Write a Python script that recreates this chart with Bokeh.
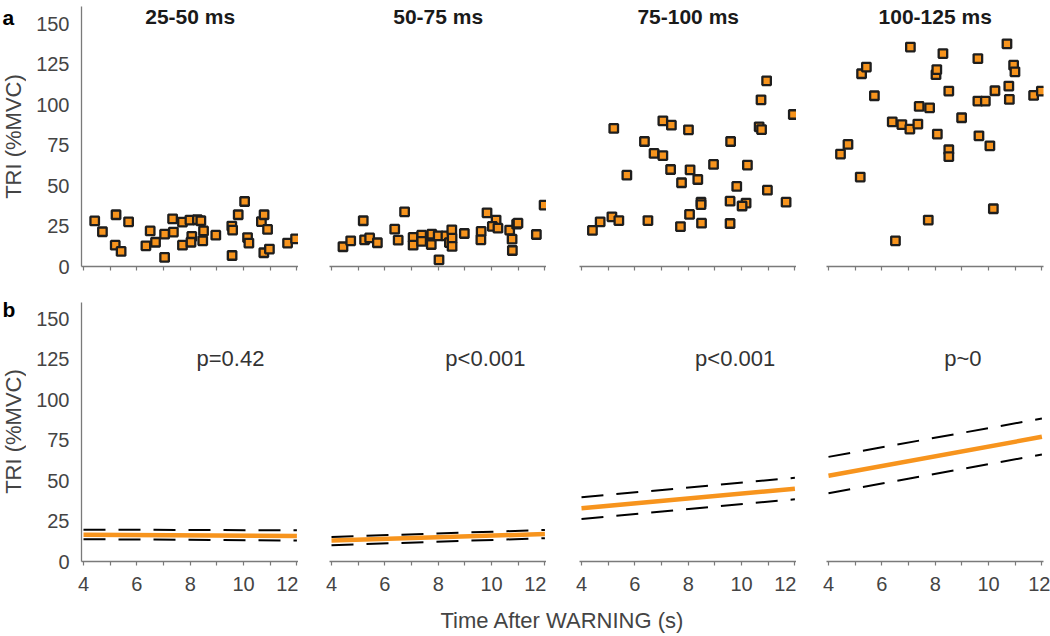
import math
from bokeh.plotting import figure
from bokeh.models import Range1d, FixedTicker, Label
from bokeh.layouts import column, row
from bokeh.embed import file_html
from bokeh.resources import INLINE

FONT = "Liberation Sans"
ORANGE = "#F7941D"
AXIS_COL = "#7a7a7a"
TEXT_COL = "#444444"

# ---------------- data ----------------
windows = ["25-50 ms", "50-75 ms", "75-100 ms", "100-125 ms"]
p_texts = ["p=0.42", "p<0.001", "p<0.001", "p~0"]
panel_tags = ["a", "b"]
y_title = "TRI (%MVC)"
x_title = "Time After WARNING (s)"
x_ticks = [4, 6, 8, 10, 12]
x_minor = [5, 7, 9, 11]
y_ticks = [0, 25, 50, 75, 100, 125, 150]

x_25_50 = [4.42, 4.71, 5.22, 5.19, 5.41, 5.69, 6.34, 6.50, 6.70, 7.04, 7.04, 7.34, 7.37,
           7.71, 7.71, 7.99, 8.06, 8.03, 8.27, 8.40, 8.50, 8.47, 8.96, 9.56, 9.59, 9.57,
           9.80, 10.04, 10.15, 10.20, 10.67, 10.77, 10.90, 10.76, 10.97, 11.65, 11.95]
y_25_50 = [28.2, 21.5, 32.0, 13.2, 9.3, 27.6, 12.8, 22.0, 15.0, 5.6, 20.0, 29.5, 21.3,
           27.5, 13.2, 28.7, 18.6, 15.0, 28.9, 28.3, 22.0, 15.9, 19.4, 25.0, 22.5, 6.8,
           32.0, 40.2, 17.9, 14.5, 27.8, 32.0, 22.9, 8.5, 10.8, 14.5, 17.1]

x_50_75 = [4.43, 4.72, 5.19, 5.24, 5.43, 5.72, 6.37, 6.50, 6.74, 7.06, 7.06, 7.38, 7.38,
           7.76, 7.74, 8.03, 8.00, 8.29, 8.42, 8.51, 8.52, 8.52, 8.98, 9.61, 9.60, 9.83,
           10.17, 10.03, 10.24, 10.68, 10.77, 10.78, 10.94, 10.99, 11.68, 11.97]
y_50_75 = [12.2, 15.9, 28.3, 16.5, 17.7, 14.7, 23.1, 16.3, 33.8, 18.0, 13.2, 19.4, 15.5,
           20.0, 13.6, 4.1, 19.0, 19.0, 14.8, 22.7, 17.5, 12.4, 20.4, 21.7, 16.5, 33.2,
           28.7, 24.8, 23.7, 22.5, 16.9, 9.9, 26.2, 26.8, 19.8, 38.0]

x_75_100 = [4.41, 4.70, 5.14, 5.40, 5.21, 5.70, 6.36, 6.49, 6.72, 7.05, 7.05, 7.37, 7.34,
            7.75, 7.71, 8.01, 8.07, 8.05, 8.36, 8.48, 8.48, 8.50, 8.95, 9.59, 9.57, 9.57,
            9.82, 10.17, 10.02, 10.22, 10.66, 10.75, 10.73, 10.94, 10.97, 11.67, 11.94]
y_75_100 = [22.3, 27.6, 30.7, 28.4, 85.4, 56.5, 77.3, 28.4, 69.9, 90.1, 68.6, 87.4, 60.0,
            51.8, 24.7, 84.5, 59.8, 32.2, 53.8, 39.8, 38.3, 26.8, 63.1, 77.3, 40.4, 26.6,
            49.5, 39.2, 37.4, 62.7, 86.4, 84.7, 103.1, 114.8, 47.2, 39.8, 94.0]

x_100_125 = [4.45, 4.73, 5.19, 5.24, 5.42, 5.72, 6.39, 6.51, 6.75, 7.07, 7.05, 7.35, 7.40,
             7.74, 7.79, 8.03, 8.06, 8.08, 8.29, 8.51, 8.51, 8.51, 8.99, 9.60, 9.88, 9.60,
             9.64, 10.05, 10.18, 10.24, 10.69, 10.76, 10.78, 10.94, 10.99, 11.69, 11.98]
y_100_125 = [69.5, 75.5, 55.3, 119.2, 123.3, 105.6, 89.5, 15.9, 87.8, 135.7, 85.0, 88.1,
             99.0, 28.7, 98.1, 118.6, 121.8, 81.9, 131.7, 108.5, 72.2, 68.0, 92.0, 102.3,
             102.3, 128.6, 80.8, 74.6, 35.7, 108.7, 137.7, 111.6, 103.3, 124.5, 120.4,
             105.8, 108.5]

fit_x = [4, 12]
fit_mean = [[16.5, 15.8], [13.0, 17.0], [32.9, 45.0], [53.0, 77.1]]
fit_upper = [[19.7, 19.3], [15.2, 19.5], [39.7, 51.8], [64.7, 88.4]]
fit_lower = [[13.8, 13.0], [10.1, 14.4], [26.3, 38.5], [42.2, 66.2]]

scatter_x = [x_25_50, x_50_75, x_75_100, x_100_125]
scatter_y = [y_25_50, y_50_75, y_75_100, y_100_125]

# ---------------- layout params ----------------
STRIP_W = 26
border_left = [55, 31, 33, 30]
border_right = [0, 0, 0, 7]
FRAME_W = 217
X_RANGE = (3.925, 12.06)
PX_PER_Y = 1.617
TOP_FH, TOP_BT, TOP_BB = 266, 0, 36
BOT_FH, BOT_BT, BOT_BB = 259, 0, 42
LABEL_H = 33
p_label_x = [9.51, 9.77, 9.76, 9.04]


def style_x_axis(p, show_labels):
    ax = p.xaxis[0]
    ax.ticker = FixedTicker(ticks=x_ticks, minor_ticks=x_minor)
    ax.axis_line_color = AXIS_COL
    ax.axis_line_width = 1.3
    ax.major_tick_line_color = AXIS_COL
    ax.minor_tick_line_color = AXIS_COL
    ax.major_tick_line_width = 1.2
    ax.minor_tick_line_width = 1.2
    ax.major_tick_out = 4
    ax.major_tick_in = 0
    ax.minor_tick_out = 4
    ax.minor_tick_in = 0
    if show_labels:
        ax.major_label_text_font = FONT
        ax.major_label_text_font_size = "20px"
        ax.major_label_text_color = TEXT_COL
        ax.major_label_standoff = 11
    else:
        ax.major_label_overrides = {t: "" for t in x_ticks}
        ax.major_label_text_font_size = "0px"
        ax.major_label_standoff = 0


def style_y_axis(p, top):
    ax = p.yaxis[0]
    ax.ticker = FixedTicker(ticks=y_ticks, minor_ticks=[])
    ax.bounds = (0, 161) if top else (0, 160)
    ax.axis_line_color = AXIS_COL
    ax.axis_line_width = 1.3
    ax.major_tick_out = 0
    ax.major_tick_in = 0
    ax.minor_tick_out = 0
    ax.major_label_text_font = FONT
    ax.major_label_text_font_size = "20px"
    ax.major_label_text_color = TEXT_COL
    ax.major_label_standoff = 12


def make_fig(i, top_row):
    if top_row:
        fh, bt, bb = TOP_FH, TOP_BT, TOP_BB
    else:
        fh, bt, bb = BOT_FH, BOT_BT, BOT_BB
    p = figure(
        frame_width=FRAME_W, frame_height=fh,
        x_range=Range1d(*X_RANGE), y_range=Range1d(0, fh / PX_PER_Y),
        min_border_left=border_left[i], min_border_right=border_right[i],
        min_border_top=bt, min_border_bottom=bb,
        toolbar_location=None, output_backend="svg", title=None,
        y_axis_location="left" if i == 0 else None,
        outline_line_color=None, background_fill_color="white",
        border_fill_color="white",
    )
    p.xgrid.visible = False
    p.ygrid.visible = False
    style_x_axis(p, not top_row)
    if i == 0:
        style_y_axis(p, top_row)
    return p


top_figs = []
bot_figs = []
for i in range(4):
    pt = make_fig(i, True)
    pt.scatter(scatter_x[i], scatter_y[i], marker="square", size=8.5,
               fill_color=ORANGE, line_color="#1e1e1e", line_width=2.3)
    pt.add_layout(Label(x=8, y=154.6, text=windows[i], text_align="center",
                        text_baseline="alphabetic", text_font=FONT,
                        text_font_style="bold", text_font_size="21px",
                        text_color="#1a1a1a"))
    top_figs.append(pt)

    pb = make_fig(i, False)
    pb.line(fit_x, fit_upper[i], line_color="black", line_width=2, line_dash="22 13")
    pb.line(fit_x, fit_lower[i], line_color="black", line_width=2, line_dash="22 13")
    pb.line(fit_x, fit_mean[i], line_color=ORANGE, line_width=4.5)
    pb.add_layout(Label(x=p_label_x[i], y=125.4, text=p_texts[i], text_align="center",
                        text_baseline="alphabetic", text_font=FONT,
                        text_font_size="22px", text_color="#333333"))
    bot_figs.append(pb)

# left strip carrying panel tags and the y titles (page coordinates, y downward)
ROWS_H = (TOP_BT + TOP_FH + TOP_BB) + (BOT_BT + BOT_FH + BOT_BB)
strip = figure(frame_width=STRIP_W, frame_height=ROWS_H,
               x_range=Range1d(0, STRIP_W), y_range=Range1d(ROWS_H, 0),
               min_border=0, toolbar_location=None, output_backend="svg",
               title=None, x_axis_location=None, y_axis_location=None,
               outline_line_color=None)
strip.xgrid.visible = False
strip.ygrid.visible = False
for tag, ty in zip(panel_tags, [17, 309]):
    strip.add_layout(Label(x=2, y=ty, text=tag, text_align="left",
                           text_baseline="alphabetic", text_font=FONT,
                           text_font_style="bold", text_font_size="21px",
                           text_color="black"))
for cy in [136, 431]:
    strip.add_layout(Label(x=12.5, y=cy, text=y_title, angle=math.pi / 2,
                           text_align="center", text_baseline="middle",
                           text_font=FONT, text_font_size="22px",
                           text_color=TEXT_COL))

TOTAL_W = STRIP_W + sum(border_left) + sum(border_right) + 4 * FRAME_W
label_fig = figure(frame_width=TOTAL_W, frame_height=LABEL_H,
                   x_range=Range1d(0, TOTAL_W), y_range=Range1d(0, LABEL_H),
                   min_border=0, toolbar_location=None, output_backend="svg",
                   title=None, x_axis_location=None, y_axis_location=None,
                   outline_line_color=None)
label_fig.xgrid.visible = False
label_fig.ygrid.visible = False
label_fig.add_layout(Label(x=562, y=16, text=x_title,
                           text_align="center", text_baseline="middle",
                           text_font=FONT, text_font_size="22px",
                           text_color=TEXT_COL))

grid = column(row(*top_figs, spacing=0), row(*bot_figs, spacing=0), spacing=0)
layout = column(row(strip, grid, spacing=0), label_fig, spacing=0)

open("out.html", "w").write(file_html(layout, INLINE))
